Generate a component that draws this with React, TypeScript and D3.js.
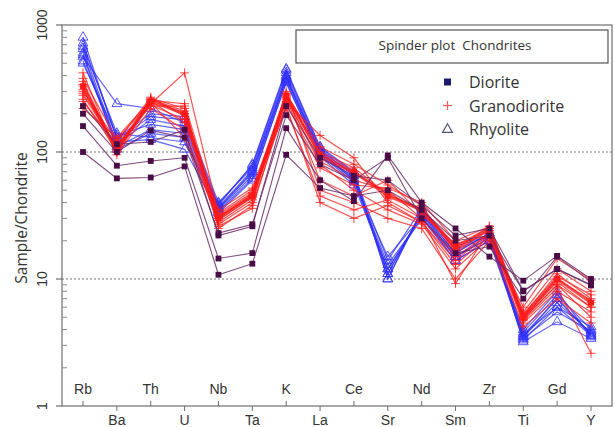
import React from 'react';
import * as d3 from 'd3';

const categories = ['Rb', 'Ba', 'Th', 'U', 'Nb', 'Ta', 'K', 'La', 'Ce', 'Sr', 'Nd', 'Sm', 'Zr', 'Ti', 'Gd', 'Y'];

const dioriteSamples: number[][] = [
  [100, 62, 63, 77, 10.8, 13.2, 95, 52, 45, 50, 35, 20, 22, 8, 12, 9],
  [160, 78, 85, 90, 14.5, 16, 154, 60, 41, 94, 40, 25, 15, 9.7, 15.2, 10],
  [200, 100, 148, 130, 23, 27, 195, 80, 60, 90, 30, 16, 18, 7, 15, 9.5],
  [230, 115, 120, 150, 22, 26, 230, 90, 65, 60, 38, 22, 25, 8.1, 12, 8.9],
];

const granodioriteSamples: number[][] = [
  [330, 100, 250, 200, 30, 45, 280, 95, 70, 45, 35, 18, 25, 5, 10, 6.5],
  [340, 105, 260, 210, 31, 47, 290, 90, 68, 48, 34, 17, 24, 5.2, 11, 7],
  [300, 120, 270, 190, 28, 42, 260, 85, 60, 50, 30, 15, 23, 4.8, 9, 6],
  [280, 110, 240, 420, 33, 50, 250, 135, 90, 40, 28, 13, 22, 4.5, 8, 5.5],
  [250, 115, 230, 230, 25, 38, 240, 75, 55, 52, 40, 20, 26, 5.5, 12, 8],
  [380, 125, 250, 170, 35, 52, 270, 80, 50, 35, 27, 12, 21, 6, 14.5, 9.8],
  [420, 95, 220, 150, 27, 40, 300, 50, 40, 30, 25, 10, 20, 4.2, 7, 4.5],
  [220, 130, 255, 240, 32, 48, 220, 45, 35, 42, 30, 9.2, 24, 4.7, 8.5, 2.6],
  [260, 102, 245, 130, 29, 44, 230, 40, 30, 38, 28, 14, 23, 5, 9.5, 6],
  [310, 108, 265, 220, 30, 46, 285, 110, 80, 55, 38, 16, 25, 5.3, 10.5, 7.5],
  [290, 112, 235, 180, 26, 36, 265, 60, 45, 60, 32, 19, 22, 4.9, 9, 5],
  [360, 100, 258, 200, 31, 45, 275, 100, 75, 46, 36, 17, 26, 5.1, 10, 6.8],
];

const rhyoliteSamples: number[][] = [
  [800, 125, 190, 180, 38, 80, 450, 110, 70, 10, 35, 17, 22, 3.3, 6, 3.6],
  [720, 130, 200, 190, 40, 75, 420, 105, 65, 11, 33, 16, 23, 3.5, 6.5, 3.8],
  [650, 115, 180, 160, 36, 70, 400, 100, 62, 12, 32, 15, 21, 3.6, 7, 3.7],
  [600, 110, 150, 140, 35, 65, 380, 98, 60, 13, 30, 15, 21, 3.8, 7.5, 4],
  [560, 240, 220, 170, 37, 72, 390, 102, 66, 14, 36, 18, 22, 4, 8, 3.5],
  [520, 120, 125, 105, 34, 62, 350, 95, 58, 15, 31, 14, 20, 3.4, 5.5, 3.9],
  [680, 140, 130, 120, 39, 78, 440, 108, 68, 10, 34, 16, 23, 3.2, 4.6, 3.4],
  [580, 105, 140, 130, 33, 60, 360, 92, 55, 12, 30, 14, 20, 3.7, 6, 4.2],
  [500, 135, 165, 150, 36, 68, 370, 100, 60, 11, 33, 15, 22, 3.5, 7, 3.6],
];

const yTicks = [1, 10, 100, 1000];
const gridValues = [10, 100];
const legendTitle = 'Spinder plot\u00a0\u00a0Chondrites';
const legendNames = ['Diorite', 'Granodiorite', 'Rhyolite'];

const W = 615;
const H = 427;
const left = 62;
const right = 612;
const top = 25;
const bottom = 406;

export default function App() {
  const x = d3.scalePoint<string>().domain(categories).range([left, right]).padding(0.62);
  const y = d3.scaleLog().domain([1, 1000]).range([bottom, top]);
  const line = d3
    .line<number>()
    .x((_, i) => x(categories[i]) as number)
    .y((d) => y(d));

  const minor: number[] = [];
  for (let e = 0; e < 3; e++) {
    for (let m = 2; m <= 9; m++) minor.push(m * Math.pow(10, e));
  }

  const tri = d3.symbol().type(d3.symbolTriangle).size(42)() as string;
  const sq = d3.symbol().type(d3.symbolSquare).size(34)() as string;

  const rhyCol = '#2f2fff';
  const graCol = '#ff1a1a';
  const dioLine = '#6a2a68';
  const dioMark = '#4a0c46';

  return (
    <svg width={W} height={H} style={{ position: 'absolute', left: 0, top: 0, background: '#fff' }}>
      <rect x={0} y={0} width={W} height={H} fill="#fff" />
      {gridValues.map((g) => (
        <line key={g} x1={left} x2={right} y1={y(g)} y2={y(g)} stroke="#777" strokeDasharray="2,2" strokeWidth={1} />
      ))}
      <rect x={left} y={top} width={right - left} height={bottom - top} fill="none" stroke="#6e6e6e" strokeWidth={1.2} />
      {yTicks.map((t) => (
        <g key={t}>
          <line x1={left - 6} x2={left} y1={y(t)} y2={y(t)} stroke="#6e6e6e" strokeWidth={1.2} />
          <text
            transform={`translate(${47},${y(t)}) rotate(-90)`}
            textAnchor="middle"
            fontFamily="Liberation Sans, Arial, sans-serif"
            fontSize={14}
            fill="#333"
          >
            {t}
          </text>
        </g>
      ))}
      {minor.map((m) => (
        <line key={m} x1={left} x2={left + 5} y1={y(m)} y2={y(m)} stroke="#8a8a8a" strokeWidth={1} />
      ))}
      <text
        transform={`translate(${27},${218}) rotate(-90)`}
        textAnchor="middle"
        fontFamily="Open Sans, sans-serif"
        fontSize={15.5}
        fill="#333"
      >
        Sample/Chondrite
      </text>
      {categories.map((c, i) => {
        const cx = x(c) as number;
        const up = i % 2 === 0;
        return (
          <g key={c}>
            <line x1={cx} x2={cx} y1={bottom} y2={up ? bottom - 5 : bottom + 5} stroke="#6e6e6e" strokeWidth={1} />
            <text
              x={cx}
              y={up ? 394 : 425}
              textAnchor="middle"
              fontFamily="Liberation Sans, Arial, sans-serif"
              fontSize={14}
              fill="#333"
            >
              {c}
            </text>
          </g>
        );
      })}
      {rhyoliteSamples.map((s, k) => (
        <g key={'r' + k}>
          <path d={line(s) as string} fill="none" stroke={rhyCol} strokeOpacity={0.75} strokeWidth={1.2} />
          {s.map((v, i) => (
            <path
              key={i}
              d={tri}
              transform={`translate(${x(categories[i])},${y(v)})`}
              fill="none"
              stroke={rhyCol}
              strokeOpacity={0.8}
              strokeWidth={1}
            />
          ))}
        </g>
      ))}
      {granodioriteSamples.map((s, k) => (
        <g key={'g' + k}>
          <path d={line(s) as string} fill="none" stroke={graCol} strokeOpacity={0.75} strokeWidth={k === 0 ? 3 : 1.2} />
          {s.map((v, i) => {
            const px = x(categories[i]) as number;
            const py = y(v);
            return (
              <g key={i} stroke={graCol} strokeOpacity={0.8} strokeWidth={1}>
                <line x1={px - 4.5} x2={px + 4.5} y1={py} y2={py} />
                <line x1={px} x2={px} y1={py - 4.5} y2={py + 4.5} />
              </g>
            );
          })}
        </g>
      ))}
      {granodioriteSamples[0].map((v, i) => (
        <path key={'gm' + i} d={sq} transform={`translate(${x(categories[i])},${y(v)})`} fill={graCol} />
      ))}
      {dioriteSamples.map((s, k) => (
        <g key={'d' + k}>
          <path d={line(s) as string} fill="none" stroke={dioLine} strokeOpacity={0.85} strokeWidth={1.1} />
          {s.map((v, i) => (
            <path key={i} d={sq} transform={`translate(${x(categories[i])},${y(v)})`} fill={dioMark} />
          ))}
        </g>
      ))}
      <rect x={296} y={30} width={312} height={33} fill="#fff" stroke="#555" strokeWidth={1.2} />
      <text x={455} y={50} textAnchor="middle" fontFamily="Open Sans, sans-serif" fontSize={13.5} fill="#333">
        {legendTitle}
      </text>
      {legendNames.map((n, i) => {
        const ly = 82 + i * 23.5;
        return (
          <g key={n}>
            {i === 0 && <rect x={444} y={ly - 3.5} width={7} height={7} fill="#1c1a6a" />}
            {i === 1 && (
              <g stroke="#ff5a5a" strokeWidth={1.2}>
                <line x1={443} x2={452} y1={ly} y2={ly} />
                <line x1={447.5} x2={447.5} y1={ly - 4.5} y2={ly + 4.5} />
              </g>
            )}
            {i === 2 && <path d={tri} transform={`translate(${447.5},${ly + 0.5})`} fill="none" stroke="#555a7a" strokeWidth={1.2} />}
            <text x={469} y={ly + 6} fontFamily="Open Sans, sans-serif" fontSize={16} fill="#333">
              {n}
            </text>
          </g>
        );
      })}
    </svg>
  );
}
